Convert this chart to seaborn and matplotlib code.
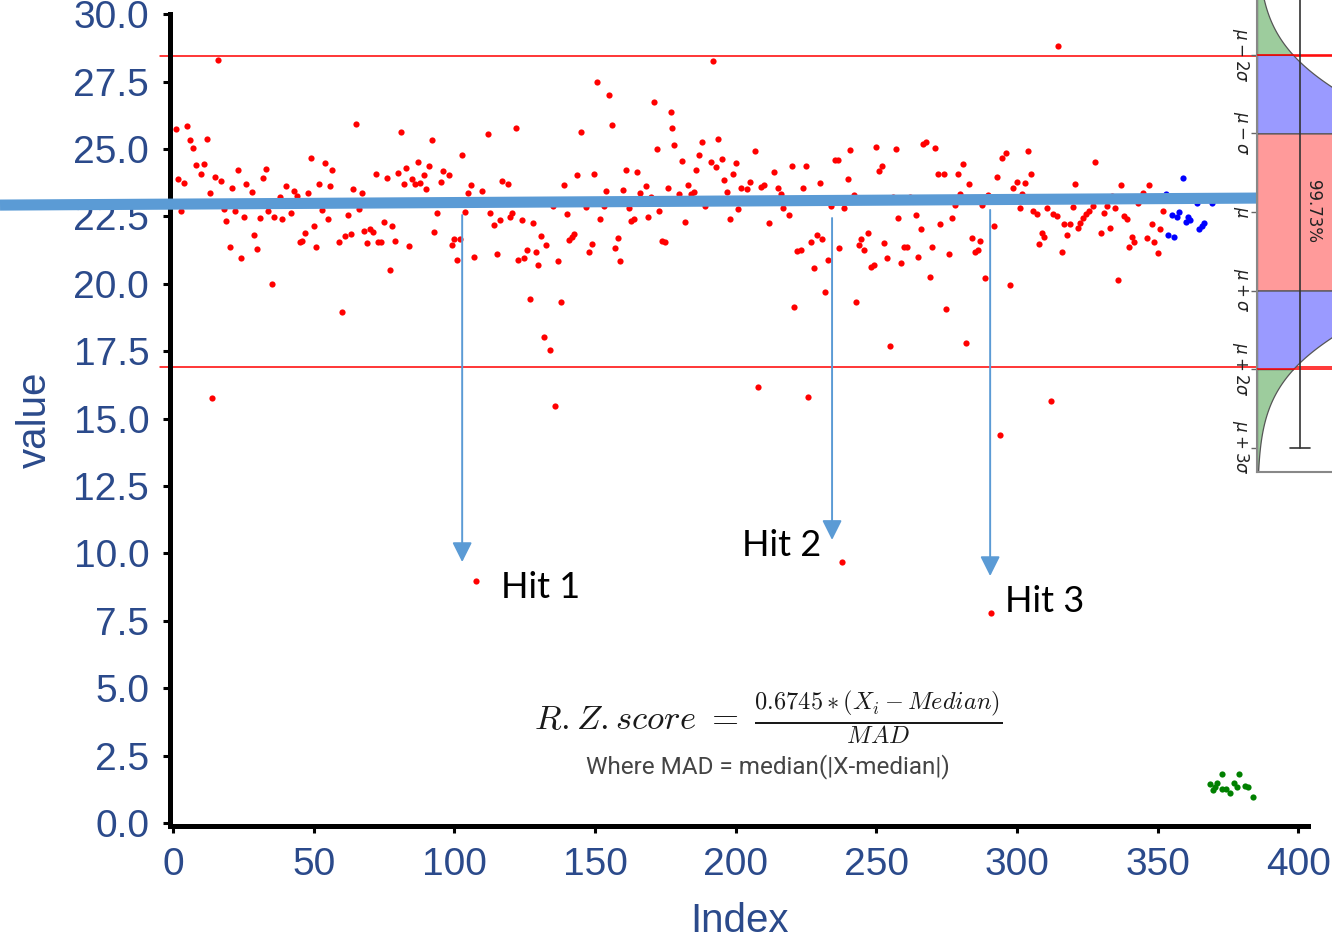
import numpy as np
import matplotlib
matplotlib.use("Agg")
import matplotlib.pyplot as plt
import seaborn as sns
import pandas as pd

# ---------------- data ----------------
red_index = [
    16.1, 1.0, 5.0, 5.9, 7.1, 12.1, 8.1, 11.1, 10.0, 1.9, 4.0, 15.0, 17.1, 13.0, 23.0, 21.1, 26.1, 28.2,
    32.0, 33.0, 38.2, 40.1, 43.1, 44.1, 48.1, 49.1, 51.9, 54.0, 55.9, 56.6, 2.85, 18.0, 22.0, 19.0, 25.1,
    31.0, 33.9, 36.0, 38.9, 42.0, 53.1, 55.0, 28.9, 20.1, 29.9, 24.2, 46.9, 50.0, 45.0, 46.0, 51.0, 35.1,
    14.0, 8.8,
    65.0, 81.1, 92.0, 111.9, 102.9, 72.1, 76.1, 80.1, 83.0, 87.0, 91.0, 85.1, 82.0, 86.0, 87.9, 89.1, 90.1,
    95.1, 96.0, 98.1, 64.0, 67.1, 105.9, 105.0, 110.0, 116.9, 62.1, 66.1, 93.9, 103.8, 112.8, 116.2, 114.0,
    59.0, 61.2, 63.1, 68.0, 69.9, 71.1, 69.0, 73.0, 74.0, 75.1, 78.0, 78.9, 83.9, 92.9, 99.1, 100.0, 101.9,
    101.0, 106.9, 115.2, 77.0, 60.0, 107.7,
    150.7, 155.0, 170.9, 177.0, 122.0, 145.0, 155.9, 177.5, 172.0, 178.2, 119.0, 139.1, 143.8, 149.8, 160.9,
    164.9, 154.0, 160.0, 165.9, 168.0, 175.8, 169.9, 119.9, 120.6, 123.9, 128.0, 140.0, 151.9, 162.8, 164.0,
    169.0, 172.8, 130.8, 132.7, 140.8, 141.7, 142.7, 149.1, 147.9, 158.1, 157.1, 159.0, 173.7, 174.9, 125.8,
    128.9, 122.7, 124.9, 129.9, 137.0, 127.0, 137.9, 132.0, 133.9, 135.8, 135.2, 146.8, 153.1, 162.1,
    192.0, 188.0, 193.9, 206.9, 187.0, 180.9, 191.1, 193.0, 195.1, 200.1, 186.1, 199.1, 196.0, 220.0, 225.0,
    235.2, 236.3, 213.8, 229.9, 183.0, 179.9, 184.2, 185.1, 197.0, 202.0, 203.9, 205.0, 209.1, 210.0, 215.0,
    216.2, 224.0, 189.2, 201.0, 216.9, 234.0, 238.5, 182.1, 197.9, 211.9, 219.0, 229.0, 230.9, 226.9, 221.9,
    223.1, 236.8, 233.0, 227.8, 231.8, 220.9, 207.9, 225.9, 237.9,
    240.8, 250.0, 256.9, 266.6, 267.8, 270.9, 294.8, 296.0, 251.9, 251.0, 239.8, 272.1, 274.0, 279.0, 280.9,
    283.0, 292.9, 298.6, 242.0, 256.0, 261.9, 279.9, 289.9, 278.0, 287.7, 257.9, 264.0, 276.8, 272.8, 265.9,
    291.8, 247.0, 244.6, 243.9, 245.8, 252.9, 259.8, 260.9, 269.9, 283.9, 287.0, 285.1, 286.1, 253.8, 265.0,
    275.9, 258.8, 248.1, 249.1, 269.0, 288.7, 297.7, 242.9, 274.9, 255.0, 281.8, 293.9, 290.8,
    314.8, 303.9, 327.8, 304.9, 303.0, 300.1, 320.7, 336.9, 347.0, 302.0, 344.9, 333.8, 301.1, 310.8, 319.8,
    326.9, 332.1, 334.9, 343.0, 305.8, 307.0, 312.9, 314.1, 325.5, 324.5, 323.6, 330.9, 338.0, 339.0, 351.8,
    316.9, 318.8, 322.6, 321.9, 348.0, 350.8, 308.9, 309.8, 317.9, 330.0, 333.1, 340.9, 341.8, 339.9, 346.1,
    348.9, 307.9, 316.0, 350.1, 335.9, 312.0,
]
red_value = [
    28.30, 25.74, 25.85, 25.34, 25.05, 25.38, 24.42, 24.44, 24.07, 23.88, 23.75, 23.97, 23.81, 23.35, 24.21, 23.57, 23.72, 23.41,
    23.91, 24.26, 23.23, 23.61, 23.44, 23.27, 23.35, 24.65, 23.70, 24.49, 23.63, 24.22, 22.69, 22.78, 22.71, 22.33, 22.48,
    22.43, 22.71, 22.48, 22.41, 22.61, 22.73, 22.40, 21.81, 21.37, 21.29, 20.97, 21.89, 22.15, 21.56, 21.60, 21.37, 19.98,
    15.75, 23.04,
    25.92, 25.64, 25.33, 25.57, 24.77, 24.07, 23.92, 24.12, 24.30, 24.53, 24.38, 23.90, 23.72, 23.70, 23.75, 24.03, 23.53,
    23.76, 24.19, 24.05, 23.50, 23.35, 23.65, 23.35, 23.45, 23.80, 22.56, 22.76, 22.64, 22.66, 22.61, 22.36, 22.17,
    21.54, 21.78, 21.84, 21.97, 22.02, 21.94, 21.52, 21.54, 21.55, 22.28, 22.13, 21.57, 21.41, 21.94, 21.45, 21.65, 21.65,
    20.88, 21.00, 21.10, 20.53, 18.95, 8.98,
    27.49, 26.99, 26.73, 26.36, 25.79, 25.62, 25.90, 25.79, 25.00, 25.16, 23.72, 23.65, 24.02, 24.09, 24.22,
    24.16, 23.44, 23.48, 23.37, 23.62, 23.56, 23.23, 22.49, 22.64, 22.36, 22.26, 22.59, 22.39, 22.34, 22.40,
    22.49, 22.69, 21.79, 21.45, 21.62, 21.72, 21.84, 21.47, 21.18, 21.71, 21.33, 20.83, 21.60, 21.54, 21.25,
    21.18, 20.90, 20.97, 20.71, 20.86, 19.43, 19.31, 18.04, 17.54, 15.47, 22.88, 22.86, 22.90, 22.83,
    28.27, 25.26, 25.36, 24.91, 24.79, 24.56, 24.51, 24.32, 24.64, 24.47, 24.22, 24.08, 23.85, 24.38, 24.38,
    24.60, 24.60, 24.16, 23.75, 23.67, 23.33, 23.34, 23.40, 23.40, 23.57, 23.50, 23.79, 23.60, 23.65, 23.54,
    23.33, 23.54, 22.89, 22.77, 22.80, 22.88, 22.80, 22.28, 22.41, 22.24, 22.55, 21.81, 21.65, 21.55, 21.23,
    21.25, 21.32, 20.90, 20.58, 19.68, 19.15, 16.18, 15.79, 9.68,
    24.96, 25.06, 25.00, 25.18, 25.27, 25.04, 24.66, 24.87, 24.38, 24.17, 23.87, 24.07, 24.09, 24.07, 24.45,
    23.69, 23.97, 23.55, 23.28, 23.23, 23.23, 23.32, 23.30, 22.91, 22.94, 22.43, 22.57, 22.45, 22.23, 22.03,
    22.15, 21.89, 21.65, 21.44, 21.24, 21.51, 21.37, 21.35, 21.37, 21.70, 21.60, 21.18, 21.24, 20.97, 21.00,
    21.09, 20.79, 20.61, 20.69, 20.25, 20.21, 19.94, 19.33, 19.05, 17.70, 17.81, 14.41, 7.79,
    28.82, 24.92, 24.50, 24.07, 23.75, 23.79, 23.69, 23.65, 23.67, 23.33, 23.35, 23.27, 22.80, 22.80, 22.86,
    22.90, 22.90, 22.83, 22.98, 22.70, 22.59, 22.59, 22.52, 22.71, 22.59, 22.45, 22.64, 22.52, 22.39, 22.69,
    22.22, 22.23, 22.24, 22.08, 22.23, 22.04, 21.89, 21.75, 21.82, 21.87, 22.08, 21.75, 21.54, 21.35, 21.70,
    21.55, 21.47, 21.18, 21.16, 20.13, 15.64,
]
blue_index = [353.0, 358.9, 355.1, 357.7, 357.0, 360.8, 360.1, 361.7, 366.7, 365.8, 364.8, 353.7, 356.0, 364.1, 369.3]
blue_value = [23.34, 23.91, 22.57, 22.67, 22.49, 22.46, 22.29, 22.36, 22.24, 22.14, 22.03, 21.81, 21.73, 22.98, 22.98]
green_index = [372.9, 378.8, 368.7, 370.5, 369.9, 372.9, 375.8, 377.1, 378.3, 381.2, 382.3, 384.1, 374.3, 371.1]
green_value = [1.82, 1.82, 1.43, 1.35, 1.22, 1.25, 1.12, 1.47, 1.32, 1.37, 1.32, 0.98, 1.28, 1.47]

limit_upper = 28.45
limit_lower = 16.91
median_line = [22.92, 23.18]
hit_labels = ["Hit 1", "Hit 2", "Hit 3"]
hit_arrow_x = [102.8, 234.3, 290.5]
hit_arrow_top = [22.55, 22.44, 22.74]
hit_arrow_tip = [9.68, 10.5, 9.16]
hit_text_xy = [(116.6, 8.75), (202.3, 10.31), (295.8, 8.23)]
inset_ticks = [-2, -1, 0, 1, 2, 3]
inset_labels = [r"$\mu - 2\sigma$", r"$\mu - \sigma$", r"$\mu$",
                r"$\mu + \sigma$", r"$\mu + 2\sigma$", r"$\mu + 3\sigma$"]

# ---------------- style ----------------
sns.set_theme(style="white")
plt.rcParams["font.family"] = ["Liberation Sans", "DejaVu Sans"]
LABEL_COLOR = "#2b4a8b"

W, H = 1332, 939
fig = plt.figure(figsize=(W / 100, H / 100), dpi=100)
ax = fig.add_axes([170 / W, 1 - 826 / H, (1308 - 170) / W, (826 - 14.2) / H])

red_df = pd.DataFrame({"Index": red_index, "value": red_value})
blue_df = pd.DataFrame({"Index": blue_index, "value": blue_value})
green_df = pd.DataFrame({"Index": green_index, "value": green_value})
for df, col in [(red_df, "red"), (blue_df, "blue"), (green_df, "green")]:
    sns.scatterplot(data=df, x="Index", y="value", color=col, s=20, linewidth=0, ax=ax, zorder=3)

ax.set_xlim(-1.07, 403.5)
ax.set_ylim(-0.11, 30.0)
ax.set_xticks(np.arange(0, 401, 50))
ax.set_yticks(np.arange(0, 30.1, 2.5))
ax.set_yticklabels([f"{v:.1f}" for v in np.arange(0, 30.1, 2.5)])
for s in ["top", "right"]:
    ax.spines[s].set_visible(False)
for s in ["left", "bottom"]:
    ax.spines[s].set_linewidth(3.6)
    ax.spines[s].set_color("black")
ax.tick_params(axis="both", which="major", direction="out", length=5, width=2.2, color="black",
               labelsize=28, labelcolor=LABEL_COLOR, bottom=True, left=True)
ax.tick_params(axis="y", pad=10)
ax.tick_params(axis="x", pad=10)
ax.set_xlabel("Index", fontsize=29, color=LABEL_COLOR, labelpad=14)
ax.set_ylabel("value", fontsize=29, color=LABEL_COLOR, labelpad=14)
ax.grid(False)

# control limit lines
for yl in [limit_upper, limit_lower]:
    ax.plot([-4.6, 415], [yl, yl], color="red", lw=1.1, clip_on=False, zorder=2)

# thick median line
ax.plot([-61.5, 385.8], median_line, color="#5b9bd5", lw=8, clip_on=False,
        solid_capstyle="butt", zorder=5)

# arrows and hit labels
for x, y0, y1 in zip(hit_arrow_x, hit_arrow_top, hit_arrow_tip):
    ax.annotate("", xy=(x, y1), xytext=(x, y0),
                arrowprops=dict(arrowstyle="-|>,head_length=0.6,head_width=0.3",
                                color="#5b9bd5", lw=1.4, shrinkA=0, shrinkB=0,
                                mutation_scale=20), zorder=4)
for lab, (tx, ty) in zip(hit_labels, hit_text_xy):
    ax.text(tx, ty, lab, fontsize=26, family=["Lato", "DejaVu Sans"], ha="left", va="center",
            color="black")

# formula
ax.text(211.6, 3.9,
        r"$R.Z.score\ =\ \frac{0.6745*(X_i - Median)}{MAD}$",
        fontsize=25, ha="center", va="center", math_fontfamily="cm", color="#1a1a1a")
ax.text(211.6, 2.11, "Where MAD = median(|X-median|)", fontsize=17.5,
        family=["Roboto", "DejaVu Sans"], ha="center", va="center", color="#444444")

# ---------------- inset: rotated normal distribution ----------------
ax2 = fig.add_axes([1257 / W, 1 - 472 / H, 293 / W, 520 / H])
ax2.set_facecolor("none")
ax2.set_ylim(3.31, -3.31)
ax2.set_xlim(0, 1.1)

def bell(z):
    return np.exp(-0.5 * z ** 2)

regions = [(-3.31, -2, "#9dcc9d"), (-2, -1, "#9a9aff"), (-1, 1, "#ff9a9a"),
           (1, 2, "#9a9aff"), (2, 3.31, "#9dcc9d")]
for a, b, c in regions:
    zz = np.linspace(a, b, 200)
    ax2.fill_betweenx(zz, 0, bell(zz), color=c, edgecolor="#555555", lw=0.9)

ax2.axhline(-2, color="red", lw=1.1, zorder=6)
ax2.axhline(2, color="red", lw=1.1, zorder=6)
ax2.plot([0.162, 0.162], [-3.31, 3.0], color="#333333", lw=1.2, zorder=7)
ax2.plot([0.124, 0.199], [3.0, 3.0], color="#333333", lw=1.2, zorder=7)
ax2.text(0.21, 0, "99.73%", rotation=270, fontsize=12, ha="center", va="center",
         family="DejaVu Sans", color="#222222", zorder=8)

ax2.set_yticks(inset_ticks)
ax2.set_yticklabels(inset_labels, rotation=270, va="center", ha="center")
ax2.set_xticks([])
ax2.tick_params(axis="y", left=True, length=4, width=1, color="#666666", labelsize=12,
                labelcolor="#222222", pad=8)
for s in ["top", "right"]:
    ax2.spines[s].set_visible(False)
for s in ["left", "bottom"]:
    ax2.spines[s].set_color("#888888")
    ax2.spines[s].set_linewidth(1.5)

fig.savefig("out.png", dpi=100)
